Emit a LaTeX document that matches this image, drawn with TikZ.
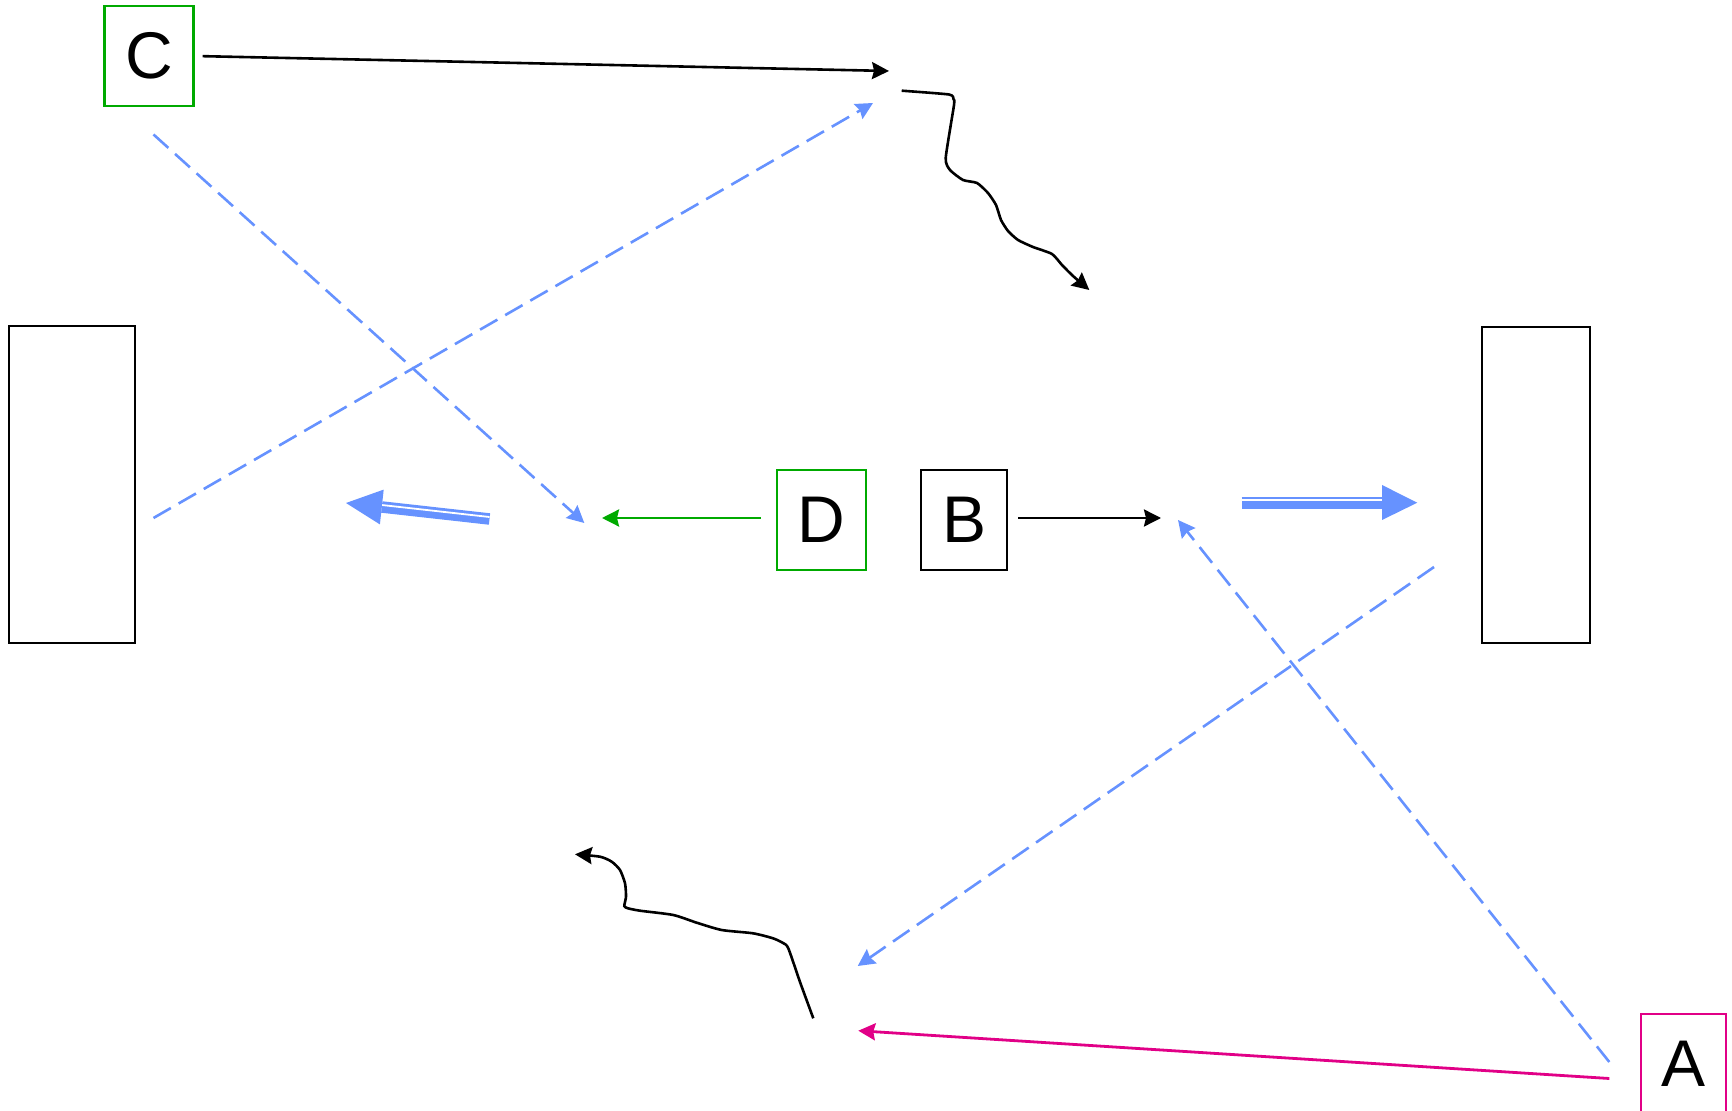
\documentclass[tikz,border=0pt]{standalone}
\usepackage{fontspec}
\setmainfont{Liberation Sans}
\usetikzlibrary{arrows.meta,calc}
\definecolor{cblue}{RGB}{102,146,255}
\definecolor{cgreen}{RGB}{0,170,0}
\definecolor{cpink}{RGB}{225,0,135}
\begin{document}
\begin{tikzpicture}[x=0.5pt,y=-0.5pt,
  box/.style={draw, line width=1.2pt, minimum width=44.5pt, minimum height=50pt, inner sep=0pt, font=\fontsize{33}{33}\selectfont},
  tall/.style={draw, line width=1.2pt, inner sep=0pt},
  conn/.style={line width=1.3pt, -{Stealth[length=8.5pt,width=8.5pt,inset=1pt]}},
  dashc/.style={conn, cblue, dash pattern=on 10pt off 4.5pt},
  dshaft/.style={cblue, line width=6pt},
  dgap/.style={white, line width=1pt},
]
\useasboundingbox (0,0) rectangle (1732,1111);
\clip (0,0) rectangle (1732,1111);

% nodes
\node[box, draw=cgreen] (C) at (149,56) {C};
\node[box, draw=cgreen] (D) at (821.5,520) {D};
\node[box, minimum width=43pt] (B) at (964,520) {B};
\node[box, draw=cpink, minimum width=42.5pt] (A) at (1683.5,1064) {A};
\node[tall, minimum width=63pt, minimum height=158.5pt] (L) at (72,484.5) {};
\node[tall, minimum width=54pt, minimum height=158pt] (R) at (1536,485) {};

% free ends
\coordinate (c1e) at (889,71);
\coordinate (s1s) at (901.7,90.7);
\coordinate (s1e) at (1089.3,290);
\coordinate (s2s) at (813.3,1018.3);
\coordinate (s2e) at (575,854.3);
\coordinate (d1s) at (153.5,134.5);
\coordinate (d1e) at (584.3,523);
\coordinate (d2s) at (153.5,518);
\coordinate (d2e) at (873,103);
\coordinate (d3s) at (1434,567);
\coordinate (d3e) at (857.7,966);
\coordinate (d4s) at (1609.3,1062);
\coordinate (d4e) at (1178,520);
\coordinate (g1e) at (602,518);
\coordinate (b1e) at (1161,518);
\coordinate (p1s) at (1609.3,1078.5);
\coordinate (p1e) at (858.3,1030.7);
\coordinate (ldS) at (489.5,519);
\coordinate (ldB) at (381.8,507);
\coordinate (ldT) at (346,503);
\coordinate (rdS) at (1241.7,503);
\coordinate (rdB) at (1382,503);
\coordinate (rdT) at (1417.3,502.7);

% solid connectors
\draw[conn, shorten <=4pt] (C.east) -- (c1e);
\draw[conn, cgreen, shorten <=7.5pt] ([yshift=1pt]D.west) -- (g1e);
\draw[conn, shorten <=5pt] ([yshift=1pt]B.east) -- (b1e);
\draw[conn, cpink, line width=1.4pt] (p1s) -- (p1e);

% squiggles
\draw[conn] plot[smooth, tension=0.35] coordinates {(s1s) (949,94.5) (953.5,99) (954,105) (945.7,158) (950,170) (963,180) (977,183) (988,193) (996,205) (1001,220) (1008,231) (1018,240) (1033,247) (1052,254) (1062,265) (1073,276) (s1e)};
\draw[conn] plot[smooth, tension=0.4] coordinates {(s2s) (800,982) (788.3,948.3) (783,943) (773,938.3) (753,933.3) (721.7,930) (696.7,922.7) (673.3,915) (640,910.7) (628,908.3) (624.3,906) (626,896.7) (625,883.3) (620,870) (611.7,861.7) (600,856.7) (s2e)};

% dashed connectors
\draw[dashc] (d1s) -- (d1e);
\draw[dashc] (d2s) -- (d2e);
\draw[dashc] (d3s) -- (d3e);
\draw[dashc] (d4s) -- (d4e);

% double arrows
\draw[dshaft, line width=5.75pt] (ldS) -- (ldB);
\draw[dgap, line width=0.9pt] ([yshift=1pt]ldS) -- ([yshift=1pt]ldB);
\fill[cblue] (ldT) -- (383.7,489.6) -- (379.9,524.4) -- cycle;

\draw[dshaft] (rdS) -- (rdB);
\draw[dgap] ([yshift=1.5pt]rdS) -- ([yshift=1.5pt]rdB);
\fill[cblue] (rdT) -- (1382,485) -- (1382,520) -- cycle;
\end{tikzpicture}
\end{document}
